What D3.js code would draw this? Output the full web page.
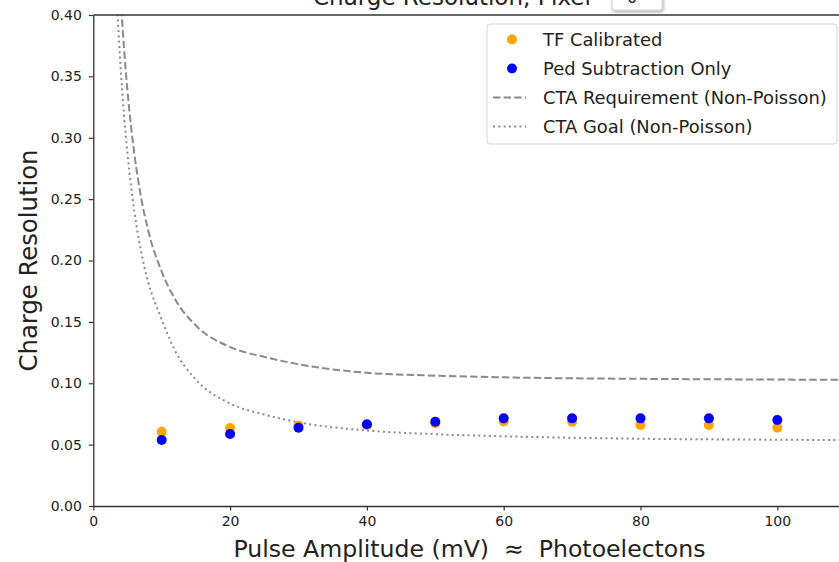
<!DOCTYPE html>
<html>
<head>
<meta charset="utf-8">
<script src="https://cdn.jsdelivr.net/npm/d3@7"></script>
<style>
  html, body { margin: 0; padding: 0; background: #fff; overflow: hidden; }
  svg { display: block; font-family: "DejaVu Sans", sans-serif; }
</style>
</head>
<body>
<svg id="chart" width="839" height="562"></svg>
<script>
// Pulse amplitudes of the measured points (mV ~ photoelectrons)
const amplitudes = [10, 20, 30, 40, 50, 60, 70, 80, 90, 100];
// Charge resolution after TF calibration
const tfCalibrated = [0.0605, 0.0635, 0.0655, 0.0660, 0.0674, 0.0688, 0.0686, 0.0660, 0.0660, 0.0638];
// Charge resolution with pedestal subtraction only
const pedSubtraction = [0.0538, 0.0587, 0.0638, 0.0666, 0.0687, 0.0714, 0.0714, 0.0714, 0.0714, 0.0700];

// CTA requirement curve (non-Poisson)
const reqCharge = [4.1, 4.5, 5, 6, 7, 8, 10, 12, 15, 20, 25, 30, 40, 50, 60, 80, 100, 110];
const reqResolution = [0.405, 0.372, 0.338, 0.287, 0.251, 0.225, 0.191, 0.168, 0.147, 0.1295, 0.1215, 0.1155, 0.1085, 0.1062, 0.1048, 0.1036, 0.1030, 0.1028];
// CTA goal curve (non-Poisson)
const goalCharge = [3.5, 4, 4.5, 5, 6, 7, 8, 10, 12, 15, 20, 25, 30, 40, 50, 60, 80, 100, 110];
const goalResolution = [0.405, 0.357, 0.318, 0.287, 0.240, 0.207, 0.183, 0.152, 0.126, 0.103, 0.0835, 0.0745, 0.0682, 0.0615, 0.0585, 0.0568, 0.0548, 0.0540, 0.0537];

const xTicks = [0, 20, 40, 60, 80, 100];
const yTicks = [0, 0.05, 0.10, 0.15, 0.20, 0.25, 0.30, 0.35, 0.40];

const legendLabels = ["TF Calibrated", "Ped Subtraction Only", "CTA Requirement (Non-Poisson)", "CTA Goal (Non-Poisson)"];
const titleText = "Charge Resolution, Pixel";
const pixelId = "0";

const svg = d3.select("#chart");
const plot = { left: 93.3, right: 845.7, top: 15, bottom: 506 };

const x = d3.scaleLinear().domain([0, 110]).range([plot.left, plot.right]);
const y = d3.scaleLinear().domain([0, 0.40]).range([plot.bottom, plot.top]);

const defs = svg.append("defs");
defs.append("clipPath").attr("id", "plotClip")
  .append("rect")
  .attr("x", plot.left).attr("y", plot.top)
  .attr("width", plot.right - plot.left).attr("height", plot.bottom - plot.top);
const shadow = defs.append("filter").attr("id", "boxShadow")
  .attr("x", "-20%").attr("y", "-50%").attr("width", "150%").attr("height", "200%");
shadow.append("feDropShadow")
  .attr("dx", 1).attr("dy", 1.5).attr("stdDeviation", 1.5)
  .attr("flood-color", "#000").attr("flood-opacity", 0.35);

// Title (partly above the top edge)
svg.append("text")
  .attr("x", 313).attr("y", 5)
  .attr("font-size", 23).attr("fill", "#222")
  .text(titleText);

// Pixel selector box
const sel = svg.append("g");
sel.append("rect")
  .attr("x", 612).attr("y", -12).attr("width", 50).attr("height", 22).attr("rx", 2)
  .attr("fill", "#fff").attr("stroke", "#d0d0d0").attr("filter", "url(#boxShadow)");
sel.append("text")
  .attr("x", 632).attr("y", 3).attr("text-anchor", "middle")
  .attr("font-size", 16).attr("fill", "#222")
  .text(pixelId);

// Curves
const line = d3.line().x(d => x(d[0])).y(d => y(d[1])).curve(d3.curveMonotoneX);
const curves = svg.append("g").attr("clip-path", "url(#plotClip)");
curves.append("path")
  .datum(reqCharge.map((q, i) => [q, reqResolution[i]]))
  .attr("d", line).attr("fill", "none")
  .attr("stroke", "#8a8a8a").attr("stroke-width", 2)
  .attr("stroke-dasharray", "7.4,3.2");
curves.append("path")
  .datum(goalCharge.map((q, i) => [q, goalResolution[i]]))
  .attr("d", line).attr("fill", "none")
  .attr("stroke", "#8a8a8a").attr("stroke-width", 2)
  .attr("stroke-dasharray", "2,3.3");

// Points
const pts = svg.append("g").attr("clip-path", "url(#plotClip)");
pts.selectAll("circle.tf").data(amplitudes).join("circle")
  .attr("class", "tf")
  .attr("cx", d => x(d)).attr("cy", (d, i) => y(tfCalibrated[i])).attr("r", 5)
  .attr("fill", "#ffa500");
pts.selectAll("circle.ped").data(amplitudes).join("circle")
  .attr("class", "ped")
  .attr("cx", d => x(d)).attr("cy", (d, i) => y(pedSubtraction[i])).attr("r", 5)
  .attr("fill", "#0000ff");

// Axes
const xAxis = svg.append("g")
  .attr("transform", `translate(0,${plot.bottom})`)
  .call(d3.axisBottom(x).tickValues(xTicks).tickFormat(d3.format("d")).tickSize(4.5).tickPadding(5.5).tickSizeOuter(0));
const yAxis = svg.append("g")
  .attr("transform", `translate(${plot.left},0)`)
  .call(d3.axisLeft(y).tickValues(yTicks).tickFormat(d3.format(".2f")).tickSize(4.5).tickPadding(7).tickSizeOuter(0));
[xAxis, yAxis].forEach(a => {
  a.select(".domain").attr("stroke", "#333").attr("stroke-width", 1.3);
  a.selectAll(".tick line").attr("stroke", "#333").attr("stroke-width", 1.2);
  a.selectAll(".tick text").attr("fill", "#222").attr("font-size", 14)
    .attr("font-family", "DejaVu Sans, sans-serif");
});
// Top spine
svg.append("line")
  .attr("x1", plot.left).attr("x2", plot.right)
  .attr("y1", plot.top).attr("y2", plot.top)
  .attr("stroke", "#333").attr("stroke-width", 1.3);

// Axis labels
svg.append("text")
  .attr("x", (plot.left + plot.right) / 2).attr("y", 557)
  .attr("text-anchor", "middle").attr("font-size", 23.6).attr("fill", "#222")
  .style("white-space", "pre")
  .text("Pulse Amplitude (mV)  \u2248  Photoelectons");
svg.append("text")
  .attr("transform", `translate(37,${(plot.top + plot.bottom) / 2}) rotate(-90)`)
  .attr("text-anchor", "middle").attr("font-size", 24.3).attr("fill", "#222")
  .text("Charge Resolution");

// Legend
const lg = svg.append("g");
lg.append("rect")
  .attr("x", 487).attr("y", 24).attr("width", 350).attr("height", 120).attr("rx", 3)
  .attr("fill", "#fff").attr("fill-opacity", 0.85)
  .attr("stroke", "#d4d4d4").attr("stroke-width", 1);
const rowY = [39.5, 68.5, 97.5, 126.5];
lg.append("circle").attr("cx", 512).attr("cy", rowY[0]).attr("r", 5).attr("fill", "#ffa500");
lg.append("circle").attr("cx", 512).attr("cy", rowY[1]).attr("r", 5).attr("fill", "#0000ff");
lg.append("line").attr("x1", 493).attr("x2", 526).attr("y1", rowY[2]).attr("y2", rowY[2])
  .attr("stroke", "#8a8a8a").attr("stroke-width", 2).attr("stroke-dasharray", "7.4,3.2");
lg.append("line").attr("x1", 493).attr("x2", 526).attr("y1", rowY[3]).attr("y2", rowY[3])
  .attr("stroke", "#8a8a8a").attr("stroke-width", 2).attr("stroke-dasharray", "2,3.3");
lg.selectAll("text.lbl").data(legendLabels).join("text")
  .attr("class", "lbl")
  .attr("x", 543).attr("y", (d, i) => rowY[i])
  .attr("dy", "0.35em")
  .attr("font-size", 17.9).attr("fill", "#222")
  .text(d => d);
</script>
</body>
</html>
